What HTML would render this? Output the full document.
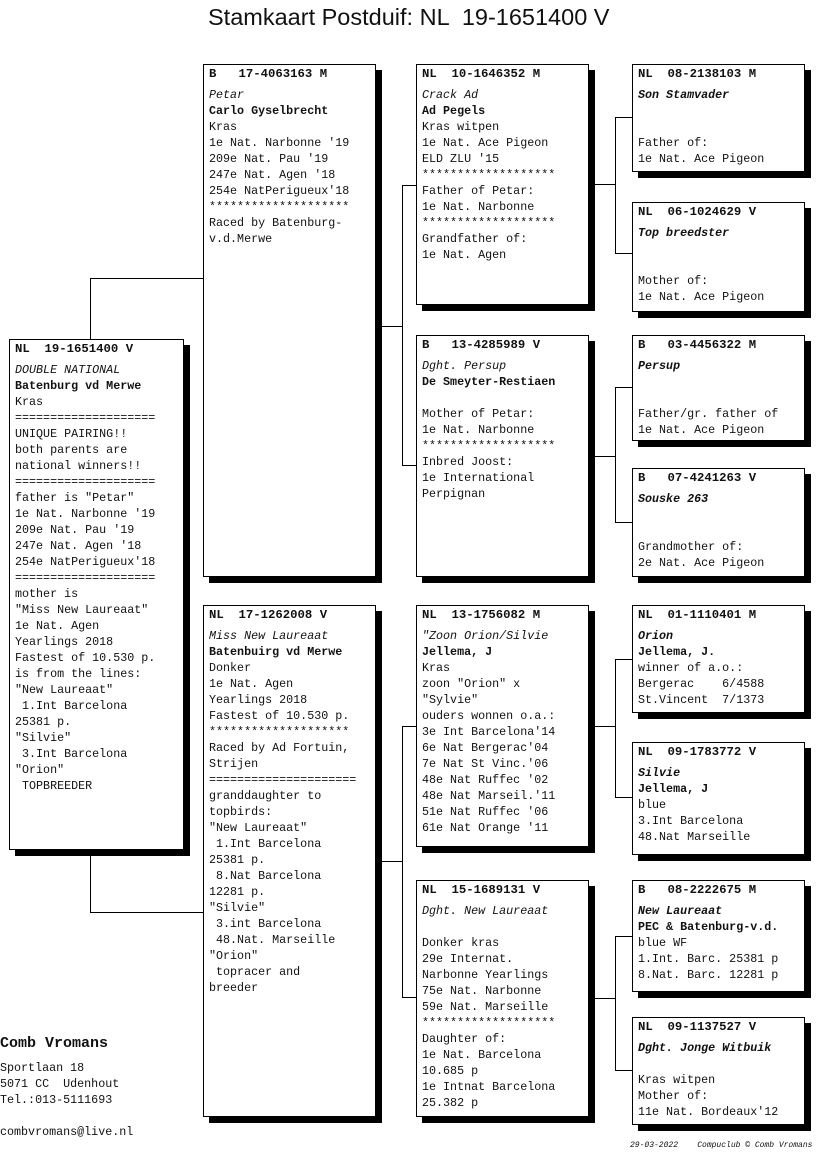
<!DOCTYPE html>
<html><head><meta charset="utf-8"><style>
body{margin:0;width:816px;height:1172px;background:#fff;position:relative;overflow:hidden;font-family:"Liberation Mono","Courier New",monospace;font-size:11.7px;color:#111}
.b{position:absolute;border:1px solid #000;background:#fff;box-shadow:6px 6px 0 #000;box-sizing:border-box;padding:1px 0 0 5px;line-height:16px;white-space:pre}
.h{font-weight:bold;font-size:12.3px;margin-bottom:5px}
i{font-style:italic}
.k{font-weight:bold}
.bi{font-weight:bold;font-style:italic}
.l{position:absolute;background:#000}
</style></head><body>
<div style="position:absolute;left:208px;top:4px;white-space:pre;font-family:'Liberation Sans',Arial,sans-serif;font-size:23.5px">Stamkaart Postduif: NL  19-1651400 V</div>

<!-- connectors -->
<div class="l" style="left:90px;top:278px;width:1px;height:61px"></div>
<div class="l" style="left:90px;top:278px;width:113px;height:1px"></div>
<div class="l" style="left:90px;top:856px;width:1px;height:56px"></div>
<div class="l" style="left:90px;top:912px;width:113px;height:1px"></div>

<div class="l" style="left:376px;top:326px;width:26px;height:1px"></div>
<div class="l" style="left:402px;top:185px;width:1px;height:281px"></div>
<div class="l" style="left:402px;top:185px;width:14px;height:1px"></div>
<div class="l" style="left:402px;top:465px;width:14px;height:1px"></div>

<div class="l" style="left:376px;top:861px;width:26px;height:1px"></div>
<div class="l" style="left:402px;top:726px;width:1px;height:272px"></div>
<div class="l" style="left:402px;top:726px;width:14px;height:1px"></div>
<div class="l" style="left:402px;top:997px;width:14px;height:1px"></div>

<div class="l" style="left:589px;top:184px;width:26px;height:1px"></div>
<div class="l" style="left:615px;top:117px;width:1px;height:137px"></div>
<div class="l" style="left:615px;top:117px;width:17px;height:1px"></div>
<div class="l" style="left:615px;top:253px;width:17px;height:1px"></div>

<div class="l" style="left:589px;top:456px;width:26px;height:1px"></div>
<div class="l" style="left:615px;top:387px;width:1px;height:136px"></div>
<div class="l" style="left:615px;top:387px;width:17px;height:1px"></div>
<div class="l" style="left:615px;top:522px;width:17px;height:1px"></div>

<div class="l" style="left:589px;top:726px;width:26px;height:1px"></div>
<div class="l" style="left:615px;top:659px;width:1px;height:139px"></div>
<div class="l" style="left:615px;top:659px;width:17px;height:1px"></div>
<div class="l" style="left:615px;top:797px;width:17px;height:1px"></div>

<div class="l" style="left:589px;top:998px;width:26px;height:1px"></div>
<div class="l" style="left:615px;top:936px;width:1px;height:135px"></div>
<div class="l" style="left:615px;top:936px;width:17px;height:1px"></div>
<div class="l" style="left:615px;top:1070px;width:17px;height:1px"></div>

<!-- main -->
<div class="b" style="left:9px;top:339px;width:175px;height:511px"><div class="h">NL  19-1651400 V</div><i>DOUBLE NATIONAL</i>
<span class="k">Batenburg vd Merwe</span>
Kras
====================
UNIQUE PAIRING!!
both parents are
national winners!!
====================
father is "Petar"
1e Nat. Narbonne '19
209e Nat. Pau '19
247e Nat. Agen '18
254e NatPerigueux'18
====================
mother is
"Miss New Laureaat"
1e Nat. Agen
Yearlings 2018
Fastest of 10.530 p.
is from the lines:
"New Laureaat"
 1.Int Barcelona
25381 p.
"Silvie"
 3.Int Barcelona
"Orion"
 TOPBREEDER</div>

<!-- gen1 -->
<div class="b" style="left:203px;top:64px;width:173px;height:513px"><div class="h">B   17-4063163 M</div><i>Petar</i>
<span class="k">Carlo Gyselbrecht</span>
Kras
1e Nat. Narbonne '19
209e Nat. Pau '19
247e Nat. Agen '18
254e NatPerigueux'18
********************
Raced by Batenburg-
v.d.Merwe</div>
<div class="b" style="left:203px;top:605px;width:173px;height:512px"><div class="h">NL  17-1262008 V</div><i>Miss New Laureaat</i>
<span class="k">Batenbuirg vd Merwe</span>
Donker
1e Nat. Agen
Yearlings 2018
Fastest of 10.530 p.
********************
Raced by Ad Fortuin,
Strijen
=====================
granddaughter to
topbirds:
"New Laureaat"
 1.Int Barcelona
25381 p.
 8.Nat Barcelona
12281 p.
"Silvie"
 3.int Barcelona
 48.Nat. Marseille
"Orion"
 topracer and
breeder</div>

<!-- gen2 -->
<div class="b" style="left:416px;top:64px;width:173px;height:241px"><div class="h">NL  10-1646352 M</div><i>Crack Ad</i>
<span class="k">Ad Pegels</span>
Kras witpen
1e Nat. Ace Pigeon
ELD ZLU '15
*******************
Father of Petar:
1e Nat. Narbonne
*******************
Grandfather of:
1e Nat. Agen</div>
<div class="b" style="left:416px;top:335px;width:173px;height:242px"><div class="h">B   13-4285989 V</div><i>Dght. Persup</i>
<span class="k">De Smeyter-Restiaen</span>

Mother of Petar:
1e Nat. Narbonne
*******************
Inbred Joost:
1e International
Perpignan</div>
<div class="b" style="left:416px;top:605px;width:173px;height:242px"><div class="h">NL  13-1756082 M</div><i>"Zoon Orion/Silvie</i>
<span class="k">Jellema, J</span>
Kras
zoon "Orion" x
"Sylvie"
ouders wonnen o.a.:
3e Int Barcelona'14
6e Nat Bergerac'04
7e Nat St Vinc.'06
48e Nat Ruffec '02
48e Nat Marseil.'11
51e Nat Ruffec '06
61e Nat Orange '11</div>
<div class="b" style="left:416px;top:880px;width:173px;height:237px"><div class="h">NL  15-1689131 V</div><i>Dght. New Laureaat</i>

Donker kras
29e Internat.
Narbonne Yearlings
75e Nat. Narbonne
59e Nat. Marseille
*******************
Daughter of:
1e Nat. Barcelona
10.685 p
1e Intnat Barcelona
25.382 p</div>

<!-- gen3 -->
<div class="b" style="left:632px;top:64px;width:173px;height:108px"><div class="h">NL  08-2138103 M</div><span class="bi">Son Stamvader</span>


Father of:
1e Nat. Ace Pigeon</div>
<div class="b" style="left:632px;top:202px;width:173px;height:110px"><div class="h">NL  06-1024629 V</div><span class="bi">Top breedster</span>


Mother of:
1e Nat. Ace Pigeon</div>
<div class="b" style="left:632px;top:335px;width:173px;height:106px"><div class="h">B   03-4456322 M</div><span class="bi">Persup</span>


Father/gr. father of
1e Nat. Ace Pigeon</div>
<div class="b" style="left:632px;top:468px;width:173px;height:109px"><div class="h">B   07-4241263 V</div><span class="bi">Souske 263</span>


Grandmother of:
2e Nat. Ace Pigeon</div>
<div class="b" style="left:632px;top:605px;width:173px;height:108px"><div class="h">NL  01-1110401 M</div><span class="bi">Orion</span>
<span class="k">Jellema, J.</span>
winner of a.o.:
Bergerac    6/4588
St.Vincent  7/1373</div>
<div class="b" style="left:632px;top:742px;width:173px;height:113px"><div class="h">NL  09-1783772 V</div><span class="bi">Silvie</span>
<span class="k">Jellema, J</span>
blue
3.Int Barcelona
48.Nat Marseille</div>
<div class="b" style="left:632px;top:880px;width:173px;height:112px"><div class="h">B   08-2222675 M</div><span class="bi">New Laureaat</span>
<span class="k">PEC &amp; Batenburg-v.d.</span>
blue WF
1.Int. Barc. 25381 p
8.Nat. Barc. 12281 p</div>
<div class="b" style="left:632px;top:1017px;width:173px;height:108px"><div class="h">NL  09-1137527 V</div><span class="bi">Dght. Jonge Witbuik</span>

Kras witpen
Mother of:
11e Nat. Bordeaux'12</div>

<!-- address -->
<div style="position:absolute;left:0;top:1035px;font-weight:bold;font-size:15px">Comb Vromans</div>
<div style="position:absolute;left:0;top:1060px;line-height:16px;white-space:pre">Sportlaan 18
5071 CC  Udenhout
Tel.:013-5111693

combvromans@live.nl</div>
<div style="position:absolute;left:630px;top:1141px;font-size:8px;font-style:italic;white-space:pre">29-03-2022    Compuclub © Comb Vromans</div>
</body></html>
